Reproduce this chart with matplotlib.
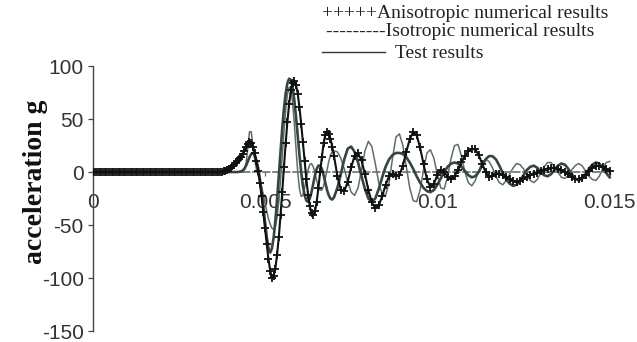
import numpy as np
import matplotlib
matplotlib.use("Agg")
import matplotlib.pyplot as plt
from matplotlib.lines import Line2D

# ---------------- data (time in ms, acceleration in g) ----------------
# sampling: every 0.05 ms up to 7.0 ms, then every 0.1 ms up to 15.0 ms
aniso_quiet = [0.0] * 74            # 0.00 .. 3.65 ms, flat baseline
aniso_pulse = [                     # 3.70 .. 7.00 ms
    0, 0.2, 0.5, 1, 1.8, 2.8, 4, 5.3, 6.8, 8.5,
    10.4, 12.4, 14.6, 17, 20, 23.5, 26.5, 28, 27, 24,
    18, 10, 1, -10, -23, -38, -53, -68, -82, -93,
    -99.5, -98, -91, -78, -61.5, -41, -19, 5, 27, 47.5,
    64, 77, 84, 86, 82, 74, 61, 45.5, 28, 10,
    -7, -21.5, -32.5, -39, -41, -37, -28, -15, 0, 14,
    27, 35, 38, 36, 31.5, 24, 15.5]
aniso_tail = [                      # 7.1 .. 15.0 ms
    -3.6, -16.6, -18.1, -9.3, 4.4, 15.4, 17.6, 10.9, -2,
    -17, -28.7, -34, -31.5, -23, -12, -4, -2, -4, -3,
    6, 19, 31, 37.8, 34.8, 23.2, 7.4, -6.9, -14.5, -11,
    -3, 2, 0, -4.5, -7, -4, 2, 9, 15, 19.5,
    21.8, 21.5, 16, 8, 0, -4.5, -4, -2, -1.5, -3,
    -5, -7, -8.5, -9, -8.5, -6.5, -4.5, -2.5, -1.5, -0.5,
    0.8, 2.2, 3.3, 4, 3.8, 2.8, 1.5, 0, -2, -4.5,
    -6.5, -7, -5.5, -2.5, 1, 3.8, 5.6, 5.8, 4.5, 2.5,
    1]

iso_quiet = [0.0] * 74
iso_pulse = [
    0, 0, 0, 0, 0, 0, 0, 0, 0, 0,
    0, 0.2, 0.5, 1.5, 3, 6, 10, 14, 17, 18,
    16, 11, 4, -6, -18, -32, -47, -61, -72, -76,
    -72, -62, -46, -26, -4, 19, 41, 60, 74, 84,
    88, 87, 80, 68, 52, 34, 16, 0, -13, -22,
    -27, -28, -25, -19, -11, -3, 3, 6, 6, 3,
    -3, -10, -17, -22, -25, -26, -24]
iso_tail = [
    -15, -2, 12, 22, 24, 19, 9, -4, -16,
    -25, -28, -25, -16, -5, 5, 12, 16, 18, 18,
    17, 14, 9, 3, -4, -10, -15, -18, -19, -17,
    -12, -6, 0, 5, 8, 9, 8, 5, 1, -3,
    -5, -4, 0, 6, 12, 15, 15, 12, 6, -1,
    -7, -11, -13, -12, -8, -3, 2, 5, 6, 4,
    0, -3, -4, -2, 2, 6, 8, 7, 3, -2,
    -6, -8, -6, -2, 3, 7, 9, 8, 4, -1,
    -5]

test_quiet = [0.0] * 74
test_pulse = [
    0, 0, 0, 0, 0, 0, 0, 0, 0, 0,
    0, 0, 0, 0, 2, 8, 22, 38, 38, 25,
    12, 3, -3, -8, -14, -21, -29, -37, -44, -49,
    -53, -54, -52, -43, -28, -8, 15, 38, 58, 73,
    80, 78, 66, 46, 22, 0, -16, -23, -22, -15,
    -6, 2, 7, 8, 5, -1, -8, -14, -17, -17,
    -13, -6, 2, 10, 16, 19, 20]
test_tail = [
    19, 13, 3, -9, -19, -22, -15, 2, 20,
    29, 24, 8, -10, -21, -22, -10, 13, 33, 36,
    25, 5, -15, -27, -28, -17, 2, 18, 21, 13,
    -2, -15, -16, -4, 13, 25, 26, 15, 0, -10,
    -13, -8, 1, 9, 12, 10, 4, -4, -10, -12,
    -8, -2, 4, 8, 7, 3, -3, -8, -10, -7,
    -1, 5, 9, 9, 5, 0, -5, -6, -3, 2,
    6, 8, 6, 1, -4, -7, -8, -4, 3, 9,
    10]

y_ticks = [100, 50, 0, -50, -100, -150]
x_ticks = [0, 0.005, 0.01, 0.015]
x_tick_labels = ["0", "0.005", "0.01", "0.015"]

# ---------------- assemble series ----------------
aniso = np.array(aniso_quiet + aniso_pulse + aniso_tail, dtype=float)
iso = np.array(iso_quiet + iso_pulse + iso_tail, dtype=float)
test = np.array(test_quiet + test_pulse + test_tail, dtype=float)
n_fine = len(aniso_quiet) + len(aniso_pulse)
n_coarse = len(aniso_tail)
t_ms = np.concatenate([np.arange(n_fine) * 0.05,
                       (n_fine - 1) * 0.05 + np.arange(1, n_coarse + 1) * 0.1])
t = t_ms * 1e-3

# ---------------- figure ----------------
fig = plt.figure(figsize=(6.37, 3.42), dpi=100)
ax = fig.add_axes([0.1455, 0.032, 0.8386, 0.775])
ax.set_xlim(0, 0.0155)
ax.set_ylim(-150, 100)

ax.plot(t, test, color="#5f6d6d", lw=1.1, zorder=2)
ax.plot(t, iso, color="#364444", lw=1.9, zorder=3)
ax.plot(t, aniso, color="#111111", lw=1.5, marker="+", ms=5.5, mew=1.3, zorder=4)

for s in ("top", "right"):
    ax.spines[s].set_visible(False)
ax.spines["left"].set_color("#444444")
ax.spines["left"].set_linewidth(1.0)
ax.spines["bottom"].set_position(("data", 0))
ax.spines["bottom"].set_bounds(0, 0.015)
ax.spines["bottom"].set_color("#6e6e6e")
ax.spines["bottom"].set_linestyle((0, (4, 2)))
ax.spines["bottom"].set_linewidth(1.2)

ax.set_yticks(y_ticks)
ax.set_yticklabels([str(v) for v in y_ticks])
ax.set_xticks(x_ticks)
ax.set_xticklabels(x_tick_labels)
ax.tick_params(axis="y", direction="out", length=3.5, width=0.9, color="#444444",
               pad=3, labelsize=15, labelcolor="#333333")
ax.tick_params(axis="x", direction="out", length=3, width=0.9, color="#666666",
               pad=12, labelsize=15, labelcolor="#333333")
for lab in ax.get_xticklabels() + ax.get_yticklabels():
    lab.set_fontfamily("Liberation Sans")

fig.text(36 / 637, 1 - 182 / 342, "acceleration g", rotation=90,
         ha="center", va="center", fontsize=20, fontweight="bold",
         family="Liberation Serif", color="#111111")

# legend (written as text lines, as in the original)
fig.text(322 / 637, 1 - 14 / 342, "+++++Anisotropic numerical results",
         ha="left", va="center", fontsize=14, family="Liberation Serif", color="#222222")
fig.text(326 / 637, 1 - 32 / 342, "---------Isotropic numerical results",
         ha="left", va="center", fontsize=14, family="Liberation Serif", color="#222222")
fig.add_artist(Line2D([322 / 637, 385 / 637], [1 - 52 / 342, 1 - 52 / 342],
                      color="#333333", lw=1.0))
fig.text(395 / 637, 1 - 53 / 342, "Test results",
         ha="left", va="center", fontsize=14, family="Liberation Serif", color="#222222")

fig.savefig("out.png", dpi=100, facecolor="white")
